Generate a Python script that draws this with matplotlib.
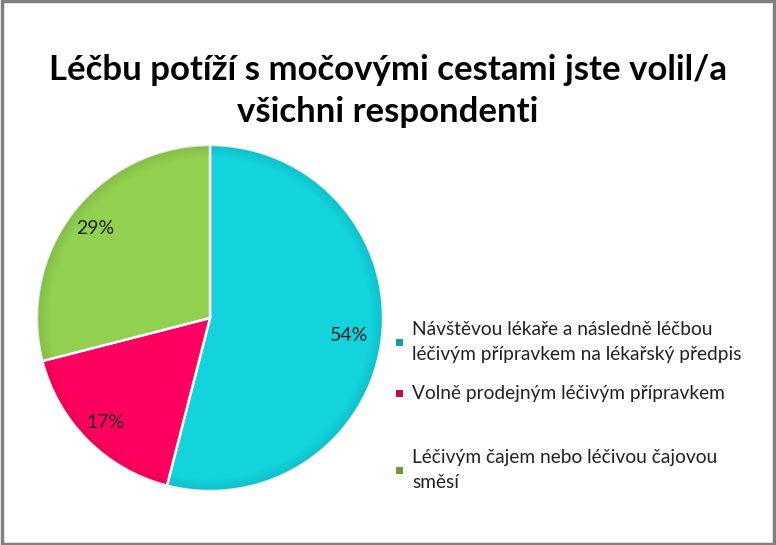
import matplotlib.pyplot as plt
import numpy as np
from matplotlib.patches import Rectangle, Wedge

plt.rcParams['font.family'] = ['Lato', 'DejaVu Sans']

# data
labels = ['Návštěvou lékaře a následně léčbou\nléčivým přípravkem na lékařský předpis',
          'Volně prodejným léčivým přípravkem',
          'Léčivým čajem nebo léčivou čajovou\nsměsí']
values = [54, 17, 29]
colors = ['#13D3DD', '#FF0060', '#92D050']
marker_colors = ['#1A9CA6', '#B8104A', '#6A9A3A']
title = 'Léčbu potíží s močovými cestami jste volil/a\nvšichni respondenti'

W, H = 776, 545
fig = plt.figure(figsize=(W / 100, H / 100), dpi=100)

# frame
fig.patches.append(Rectangle((0.002, 0.002), 0.996, 0.996, transform=fig.transFigure,
                             fill=False, edgecolor='#808080', linewidth=2.5))

fig.text(388 / W, 1 - 91 / H, title, ha='center', va='center', fontsize=25,
         fontweight='bold', linespacing=1.35)

cx, cy, r = 210, 318, 173
ax = fig.add_axes([(cx - r) / W, (H - cy - r) / H, 2 * r / W, 2 * r / H])
wedges, texts = ax.pie(values, colors=colors, startangle=90, counterclock=False,
                       radius=1, wedgeprops=dict(edgecolor='white', linewidth=1.8))

# bevel-ish shading at rim
n = 14
for i in range(n):
    ax.add_patch(Wedge((0, 0), 1 - i * 0.005, 0, 360, width=0.005,
                       facecolor='black', alpha=0.09 * (n - i) / n, linewidth=0))

# percentage labels
label_r = [0.81, 0.855, 0.84]
ang = 90
for v, lr in zip(values, label_r):
    mid = ang - v * 3.6 / 2
    ang -= v * 3.6
    x, y = lr * np.cos(np.radians(mid)), lr * np.sin(np.radians(mid))
    ax.text(x, y, f'{v}%', ha='center', va='center', fontsize=14, color='#222222')
ax.set_xlim(-1, 1)
ax.set_ylim(-1, 1)
ax.axis('off')
for p in ax.patches:
    p.set_clip_on(False)

# legend
leg_y = [342, 393, 470]
for lab, mc, y in zip(labels, marker_colors, leg_y):
    fig.patches.append(Rectangle((396 / W, 1 - (y + 3.5) / H), 7 / W, 7 / H,
                                 transform=fig.transFigure, facecolor=mc, linewidth=0))
    fig.text(412 / W, 1 - y / H, lab, ha='left', va='center', fontsize=13.8,
             color='#222222', linespacing=1.6)

fig.savefig('out.png', dpi=100)
